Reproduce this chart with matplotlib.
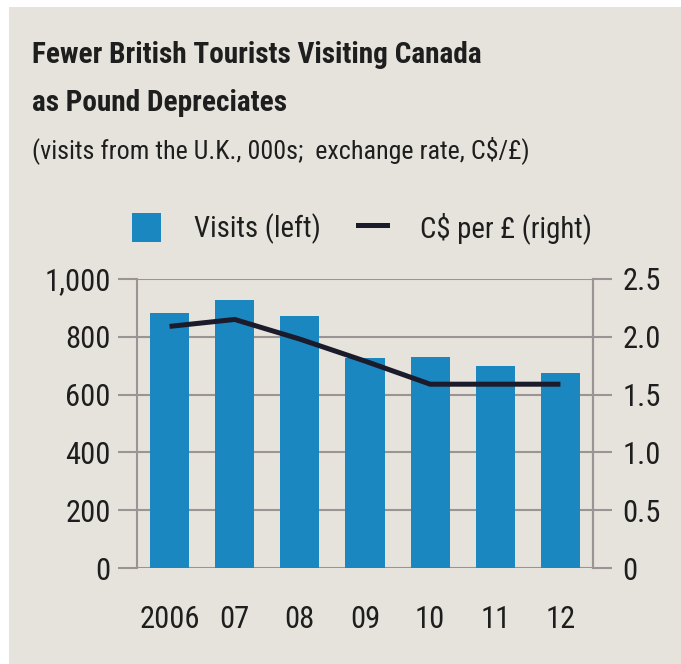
import matplotlib
matplotlib.use("Agg")
import matplotlib.pyplot as plt
from matplotlib import font_manager
from matplotlib.patches import Patch, Rectangle
from matplotlib.lines import Line2D

years = ["2006", "07", "08", "09", "10", "11", "12"]
visits = [881, 928, 871, 727, 730, 699, 675]          # thousands of visits
rate = [2.09, 2.15, 1.98, 1.79, 1.59, 1.59, 1.59]       # C$ per pound

left_ticks = [0, 200, 400, 600, 800, 1000]
left_labels = ["0", "200", "400", "600", "800", "1,000"]
right_ticks = [0, 0.5, 1.0, 1.5, 2.0, 2.5]
right_labels = ["0", "0.5", "1.0", "1.5", "2.0", "2.5"]

bg = "#e6e3dc"
bar_col = "#1a87c0"
line_col = "#1b1b2c"
grid_col = "#9b9394"
txt = "#1e1e1e"

# pick the narrowest sans we can find
installed = {f.name for f in font_manager.fontManager.ttflist}
stretch = "normal"
fam = "Liberation Sans"
for name in ["Liberation Sans Narrow", "Roboto Condensed", "Open Sans Condensed",
             "Noto Sans Condensed", "DejaVu Sans Condensed"]:
    if name in installed:
        fam = name
        break
else:
    if any(f.name == "DejaVu Sans" and f.stretch == "condensed"
           for f in font_manager.fontManager.ttflist):
        fam, stretch = "DejaVu Sans", "condensed"
plt.rcParams["font.family"] = [fam, "DejaVu Sans"]
plt.rcParams["font.stretch"] = stretch

fig = plt.figure(figsize=(6.81, 6.64), dpi=100, facecolor="white")
renderer = fig.canvas.get_renderer()
PX = 100 / 72  # pixels per point


def fit_size(s, width_px, weight="normal"):
    t = fig.text(0, 0, s, fontsize=10, fontweight=weight)
    w = t.get_window_extent(renderer).width
    t.remove()
    return 10 * width_px / w


fig.patches.append(Rectangle((9 / 681, 0), 1, 1 - 7 / 664, transform=fig.transFigure,
                             facecolor=bg, edgecolor="none", zorder=-10))

tick_fs = 1.15 * (fit_size("2006", 51) + fit_size("1,000", 58)) / 2

ax = fig.add_axes([137 / 681, 1 - 568 / 664, 456 / 681, 289 / 664])
ax.set_facecolor("none")
x = list(range(len(years)))
ax.bar(x, visits, width=0.6, color=bar_col, zorder=3)
ax.set_xlim(-0.5, len(years) - 0.5)
ax.set_ylim(0, 1000)
ax.set_yticks(left_ticks)
ax.set_yticklabels(left_labels)
ax.set_xticks(x)
ax.set_xticklabels(years)
ax.grid(axis="y", color=grid_col, linewidth=1.5, zorder=1)
ax.tick_params(axis="y", direction="out", length=14, width=1.5, color=grid_col,
               pad=5, labelsize=tick_fs, labelcolor=txt)
ax.tick_params(axis="x", length=0, pad=27, labelsize=tick_fs, labelcolor=txt)
for s in ["top", "bottom"]:
    ax.spines[s].set_visible(False)
for s in ["left", "right"]:
    ax.spines[s].set_color(grid_col)
    ax.spines[s].set_linewidth(1.5)

ax2 = ax.twinx()
ax2.plot(x, rate, color=line_col, linewidth=3.6, solid_capstyle="butt", zorder=4)
ax2.set_ylim(0, 2.5)
ax2.set_yticks(right_ticks)
ax2.set_yticklabels(right_labels)
ax2.tick_params(axis="y", direction="out", length=14, width=1.5, color=grid_col,
                pad=7, labelsize=tick_fs, labelcolor=txt)
for s in ["top", "bottom", "left"]:
    ax2.spines[s].set_visible(False)
ax2.spines["right"].set_color(grid_col)
ax2.spines["right"].set_linewidth(1.5)

leg_fs = 1.1 * (fit_size("Visits (left)", 110) + fit_size("C$ per £ (right)", 160)) / 2
em = leg_fs * PX
handles = [Patch(facecolor=bar_col, edgecolor="none"),
           Line2D([0], [0], color=line_col, linewidth=3.6)]
fig.legend(handles, ["Visits (left)", "C$ per £ (right)"], ncol=2, frameon=False,
           loc="center", bbox_to_anchor=(362 / 681, 1 - 228 / 664), fontsize=leg_fs,
           handlelength=29 / em, handleheight=33 / em, handletextpad=33 / em,
           columnspacing=38 / em, labelcolor=txt)

title1 = "Fewer British Tourists Visiting Canada"
title2 = "as Pound Depreciates"
sub = "(visits from the U.K., 000s;  exchange rate, C$/£)"
title_fs = 1.2 * fit_size(title1, 375, "bold")
sub_fs = 1.15 * fit_size(sub, 428)
fig.text(32 / 681, 1 - 63 / 664, title1, fontsize=title_fs, fontweight="bold",
         color=txt, va="baseline")
fig.text(32 / 681, 1 - 111 / 664, title2, fontsize=title_fs, fontweight="bold",
         color=txt, va="baseline")
fig.text(32 / 681, 1 - 158 / 664, sub, fontsize=sub_fs, color=txt, va="baseline")

fig.savefig("out.png", dpi=100, facecolor=fig.get_facecolor())
